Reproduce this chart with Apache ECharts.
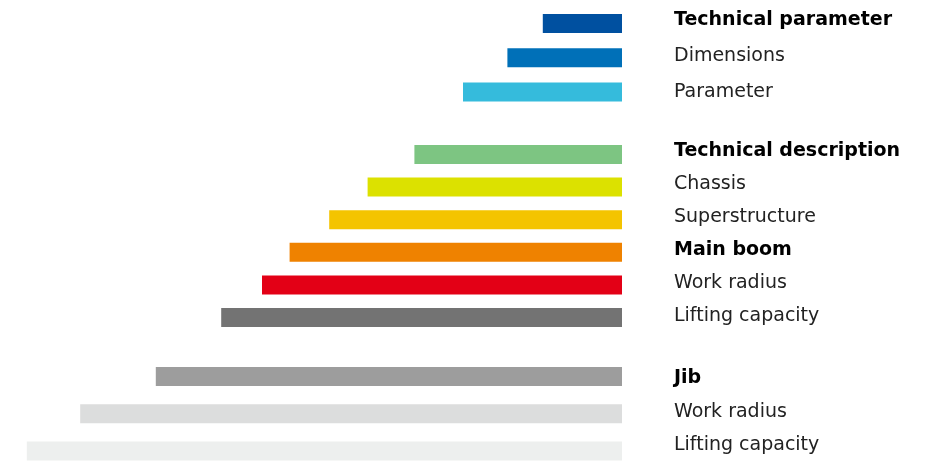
<!DOCTYPE html>
<html>
<head>
<meta charset="utf-8">
<script src="https://cdn.jsdelivr.net/npm/echarts@6/dist/echarts.min.js"></script>
<style>
html,body{margin:0;padding:0;background:#fff;}
#chart{width:928px;height:465px;}
</style>
</head>
<body>
<div id="chart"></div>
<script>
// ---- data ----
const paramNames = ['Technical parameter', 'Dimensions', 'Parameter'];
const paramValues = [13.2, 19.1, 26.5];
const descNames = ['Technical description', 'Chassis', 'Superstructure', 'Main boom', 'Work radius', 'Lifting capacity'];
const descValues = [34.6, 42.4, 48.8, 55.4, 60.0, 66.8];
const jibNames = ['Jib', 'Work radius', 'Lifting capacity'];
const jibValues = [77.7, 90.3, 99.2];
const headings = ['Technical parameter', 'Technical description', 'Main boom', 'Jib'];

// ---- styles ----
const paramColors = ['#0050a0', '#0070b8', '#35bbdc'];
const descColors = ['#7dc582', '#dce100', '#f4c400', '#ef8200', '#e30016', '#737373'];
const jibColors = ['#9d9d9d', '#dcdddd', '#edefee'];

// bar grids use boundaryGap:false, so top = first bar centre, height = last - first centre
const groups = [
  { names: paramNames, values: paramValues, colors: paramColors,
    bar: { top: 23.4, height: 68.5 }, lab: { top: 2.5, bottom: 465 - 109.75 } },
  { names: descNames, values: descValues, colors: descColors,
    bar: { top: 154.5, height: 163 }, lab: { top: 134.5, bottom: 465 - 333.1 } },
  { names: jibNames, values: jibValues, colors: jibColors,
    bar: { top: 376.5, height: 74.5 }, lab: { top: 361.5, bottom: 465 - 462.0 } }
];

const grid = [], xAxis = [], yAxis = [], series = [];
groups.forEach((g) => {
  // bar grid
  grid.push({ left: 22, width: 600, top: g.bar.top, height: g.bar.height });
  xAxis.push({ gridIndex: grid.length - 1, type: 'value', min: 0, max: 100, inverse: true, show: false });
  yAxis.push({ gridIndex: grid.length - 1, type: 'category', data: g.names, inverse: true, boundaryGap: false, show: false });
  series.push({
    type: 'bar',
    xAxisIndex: xAxis.length - 1,
    yAxisIndex: yAxis.length - 1,
    barWidth: 19,
    silent: true,
    data: g.values.map((v, k) => ({ value: v, itemStyle: { color: g.colors[k] } }))
  });
  // label grid
  grid.push({ left: 674, width: 250, top: g.lab.top, bottom: g.lab.bottom });
  xAxis.push({ gridIndex: grid.length - 1, type: 'value', min: 0, max: 1, show: false });
  yAxis.push({
    gridIndex: grid.length - 1, type: 'category', data: g.names, inverse: true,
    axisLine: { show: false }, axisTick: { show: false }, splitLine: { show: false },
    axisLabel: {
      inside: true, margin: 0, interval: 0,
      formatter: (n) => headings.includes(n) ? '{b|' + n + '}' : '{r|' + n + '}',
      rich: {
        b: { fontFamily: 'DejaVu Sans', fontSize: 19, fontWeight: 'bold', color: '#000' },
        r: { fontFamily: 'DejaVu Sans', fontSize: 19, color: '#222' }
      }
    }
  });
});

const chart = echarts.init(document.getElementById('chart'), null, { renderer: 'canvas' });
chart.setOption({
  animation: false,
  backgroundColor: '#fff',
  grid, xAxis, yAxis, series
});
</script>
</body>
</html>
